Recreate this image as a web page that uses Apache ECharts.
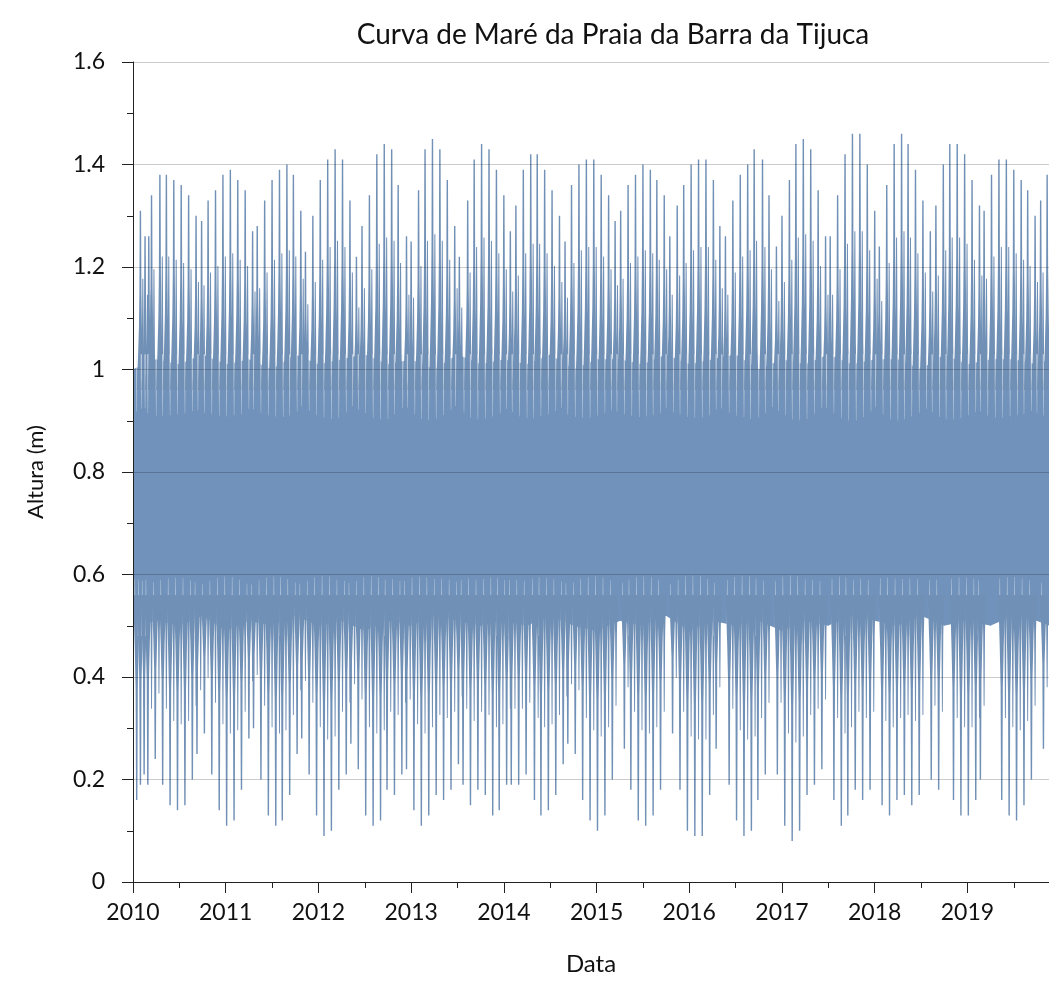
<!DOCTYPE html>
<html>
<head>
<meta charset="utf-8">
<title>Curva de Maré da Praia da Barra da Tijuca</title>
<script src="https://cdn.jsdelivr.net/npm/echarts@6/dist/echarts.min.js"></script>
<style>
  html, body { margin: 0; padding: 0; background: #fff; }
  #chart { width: 1049px; height: 1000px; }
</style>
</head>
<body>
<div id="chart"></div>
<script>
// High-water spikes (decimal year, height in m)
const highTimes = [
  2010.08, 2010.13, 2010.17, 2010.20, 2010.29, 2010.36, 2010.44, 2010.52, 2010.60, 2010.68,
  2010.74, 2010.81, 2010.89, 2010.97, 2011.05, 2011.13, 2011.21, 2011.29, 2011.34, 2011.42,
  2011.50, 2011.58, 2011.66, 2011.73, 2011.81, 2011.86, 2011.94, 2012.02, 2012.10, 2012.18,
  2012.26, 2012.34, 2012.41, 2012.47, 2012.55, 2012.63, 2012.71, 2012.79, 2012.86, 2012.95,
  2013.00, 2013.08, 2013.15, 2013.23, 2013.31, 2013.39, 2013.47, 2013.52, 2013.61, 2013.68,
  2013.76, 2013.84, 2013.92, 2014.00, 2014.07, 2014.13, 2014.21, 2014.29, 2014.36, 2014.44,
  2014.52, 2014.60, 2014.66, 2014.73, 2014.81, 2014.89, 2014.97, 2015.05, 2015.13, 2015.20,
  2015.26, 2015.34, 2015.42, 2015.50, 2015.58, 2015.65, 2015.73, 2015.79, 2015.87, 2015.94,
  2016.02, 2016.10, 2016.18, 2016.26, 2016.33, 2016.39, 2016.47, 2016.55, 2016.63, 2016.70,
  2016.79, 2016.86, 2016.94, 2017.00, 2017.08, 2017.15, 2017.23, 2017.31, 2017.39, 2017.47,
  2017.52, 2017.60, 2017.68, 2017.76, 2017.84, 2017.92, 2018.00, 2018.05, 2018.13, 2018.21,
  2018.29, 2018.36, 2018.44, 2018.52, 2018.60, 2018.66, 2018.74, 2018.81, 2018.89, 2018.97,
  2019.05, 2019.13, 2019.18, 2019.26, 2019.34, 2019.42, 2019.50, 2019.58, 2019.65, 2019.73,
  2019.79, 2019.86
];
const highValues = [
  1.31, 1.26, 1.26, 1.34, 1.38, 1.38, 1.37, 1.36, 1.34, 1.30,
  1.29, 1.33, 1.35, 1.38, 1.39, 1.37, 1.35, 1.27, 1.28, 1.33,
  1.37, 1.39, 1.40, 1.38, 1.31, 1.23, 1.30, 1.37, 1.41, 1.43,
  1.41, 1.33, 1.22, 1.28, 1.34, 1.42, 1.44, 1.43, 1.36, 1.26,
  1.25, 1.35, 1.43, 1.45, 1.43, 1.37, 1.28, 1.22, 1.33, 1.41,
  1.44, 1.43, 1.39, 1.34, 1.27, 1.32, 1.39, 1.42, 1.42, 1.39,
  1.35, 1.30, 1.25, 1.36, 1.40, 1.41, 1.41, 1.38, 1.34, 1.29,
  1.31, 1.36, 1.38, 1.40, 1.39, 1.37, 1.34, 1.26, 1.32, 1.36,
  1.40, 1.41, 1.41, 1.37, 1.28, 1.26, 1.33, 1.38, 1.40, 1.43,
  1.41, 1.34, 1.24, 1.30, 1.37, 1.44, 1.45, 1.43, 1.35, 1.26,
  1.26, 1.34, 1.42, 1.46, 1.46, 1.40, 1.31, 1.24, 1.36, 1.44,
  1.46, 1.44, 1.39, 1.33, 1.27, 1.32, 1.40, 1.44, 1.44, 1.42,
  1.37, 1.32, 1.31, 1.38, 1.41, 1.41, 1.39, 1.37, 1.35, 1.30,
  1.33, 1.38
];

// Low-water spikes (decimal year, height in m)
const lowTimes = [
  2010.04, 2010.08, 2010.12, 2010.16, 2010.24, 2010.32, 2010.40, 2010.48, 2010.56, 2010.64,
  2010.69, 2010.77, 2010.85, 2010.93, 2011.01, 2011.09, 2011.17, 2011.25, 2011.30, 2011.38,
  2011.46, 2011.54, 2011.61, 2011.69, 2011.77, 2011.82, 2011.90, 2011.98, 2012.06, 2012.14,
  2012.22, 2012.30, 2012.35, 2012.43, 2012.51, 2012.59, 2012.67, 2012.74, 2012.82, 2012.90,
  2012.95, 2013.03, 2013.11, 2013.19, 2013.27, 2013.35, 2013.43, 2013.51, 2013.56, 2013.64,
  2013.72, 2013.80, 2013.88, 2013.95, 2014.03, 2014.08, 2014.16, 2014.24, 2014.33, 2014.40,
  2014.48, 2014.56, 2014.64, 2014.69, 2014.77, 2014.85, 2014.93, 2015.01, 2015.09, 2015.17,
  2015.30, 2015.37, 2015.45, 2015.53, 2015.61, 2015.69, 2015.82, 2015.90, 2015.98, 2016.06,
  2016.14, 2016.22, 2016.29, 2016.43, 2016.51, 2016.59, 2016.67, 2016.74, 2016.82, 2016.95,
  2017.03, 2017.11, 2017.19, 2017.27, 2017.35, 2017.43, 2017.56, 2017.64, 2017.71, 2017.79,
  2017.87, 2017.95, 2018.08, 2018.16, 2018.24, 2018.32, 2018.40, 2018.48, 2018.61, 2018.69,
  2018.85, 2018.93, 2019.01, 2019.09, 2019.14, 2019.37, 2019.45, 2019.53, 2019.61, 2019.69,
  2019.82
];
const lowValues = [
  0.16, 0.19, 0.21, 0.19, 0.24, 0.19, 0.15, 0.14, 0.15, 0.20,
  0.25, 0.29, 0.21, 0.14, 0.11, 0.12, 0.18, 0.28, 0.30, 0.20,
  0.13, 0.11, 0.12, 0.17, 0.25, 0.28, 0.21, 0.13, 0.09, 0.10,
  0.18, 0.21, 0.27, 0.22, 0.13, 0.11, 0.12, 0.18, 0.17, 0.21,
  0.22, 0.14, 0.11, 0.13, 0.17, 0.16, 0.18, 0.23, 0.19, 0.15,
  0.18, 0.17, 0.13, 0.14, 0.19, 0.19, 0.19, 0.21, 0.16, 0.13,
  0.14, 0.17, 0.23, 0.27, 0.25, 0.16, 0.12, 0.10, 0.13, 0.20,
  0.26, 0.18, 0.12, 0.11, 0.13, 0.18, 0.29, 0.18, 0.10, 0.09,
  0.09, 0.17, 0.26, 0.19, 0.12, 0.09, 0.10, 0.16, 0.21, 0.21,
  0.11, 0.08, 0.10, 0.17, 0.19, 0.22, 0.16, 0.11, 0.13, 0.18,
  0.16, 0.18, 0.15, 0.13, 0.16, 0.17, 0.15, 0.17, 0.20, 0.18,
  0.16, 0.13, 0.13, 0.16, 0.20, 0.16, 0.13, 0.12, 0.15, 0.20,
  0.26
];

// Dense mid-band of the record (quarterly edges, m)
const bandTimes = [
  2010.00, 2010.25, 2010.50, 2010.75, 2011.00, 2011.25, 2011.50, 2011.75, 2012.00, 2012.25,
  2012.50, 2012.75, 2013.00, 2013.25, 2013.50, 2013.75, 2014.00, 2014.25, 2014.50, 2014.75,
  2015.00, 2015.25, 2015.50, 2015.75, 2016.00, 2016.25, 2016.50, 2016.75, 2017.00, 2017.25,
  2017.50, 2017.75, 2018.00, 2018.25, 2018.50, 2018.75, 2019.00, 2019.25, 2019.50, 2019.75,
  2019.88
];
const bandUpper = [
  1.00, 1.02, 1.01, 1.03, 1.01, 1.02, 1.00, 1.03, 1.01, 1.02,
  1.03, 1.01, 1.02, 1.00, 1.03, 1.01, 1.02, 1.01, 1.03, 1.00,
  1.02, 1.02, 1.01, 1.03, 1.01, 1.02, 1.03, 1.00, 1.02, 1.01,
  1.03, 1.01, 1.02, 1.02, 1.00, 1.03, 1.01, 1.02, 1.02, 1.01,
  1.02
];
const bandLower = [
  0.50, 0.51, 0.50, 0.52, 0.49, 0.51, 0.50, 0.52, 0.50, 0.51,
  0.49, 0.51, 0.50, 0.52, 0.51, 0.50, 0.51, 0.50, 0.52, 0.50,
  0.49, 0.51, 0.50, 0.52, 0.49, 0.51, 0.50, 0.51, 0.49, 0.51,
  0.50, 0.52, 0.51, 0.50, 0.52, 0.50, 0.51, 0.50, 0.52, 0.51,
  0.50
];

// Tick labels
const yearLabels = ['2010', '2011', '2012', '2013', '2014', '2015', '2016', '2017', '2018', '2019'];

const TIDE = '#7192ba';
const SPIKE = '#7190b6';
const GAP = 'rgba(236,241,248,0.6)';
const FONT = 'Lato, "Open Sans", sans-serif';
const HIGH_BASE = 0.96;   // spikes grow out of the dense band
const LOW_BASE = 0.56;

// One band segment per item: [t0, low0, up0, t1, low1, up1]
const bandSegments = bandTimes.slice(0, -1).map((t, i) => [
  t, bandLower[i], bandUpper[i], bandTimes[i + 1], bandLower[i + 1], bandUpper[i + 1]
]);

function bandItem(params, api) {
  const a = api.coord([api.value(0), api.value(1)]);
  const b = api.coord([api.value(0), api.value(2)]);
  const c = api.coord([api.value(3), api.value(5)]);
  const d = api.coord([api.value(3), api.value(4)]);
  return {
    type: 'polygon',
    shape: { points: [[a[0] - 0.5, a[1]], [b[0] - 0.5, b[1]], [c[0] + 0.5, c[1]], [d[0] + 0.5, d[1]]] },
    style: { fill: TIDE }
  };
}

// Tapered spike: wide where it leaves the band, a thin line at the tip.
// Profile = [fraction of the way to the tip, half-width in px]
function taper(x, yb, yt, profile) {
  const left = [], right = [];
  profile.forEach(([f, w]) => {
    const y = yb + (yt - yb) * f;
    left.push([x - w, y]);
    right.unshift([x + w, y]);
  });
  return left.concat(right);
}

const HIGH_PROFILE = [[0, 3.6], [0.18, 2.4], [0.35, 1.5], [0.55, 1.0], [1, 0.7]];
const HIGH_SIDE = [[0, 1.8], [0.3, 1.0], [1, 0.5]];
const LOW_PROFILE = [[0, 3.4], [0.25, 2.0], [0.45, 1.1], [1, 0.7]];
const LOW_SIDE = [[0, 1.8], [0.35, 0.9], [1, 0.45]];
const GAP_PROFILE = [[0, 0.7], [0.6, 0.45], [1, 0.2]];

// The light gap beside each spike reaches into the dense band
// in proportion to the spike's range.
function makeSpike(profile, side, sideDx, sideReach, gapDx, gapEdge, gapDepth) {
  return function (params, api) {
    const t = api.value(0), base = api.value(1), tip = api.value(2);
    const pb = api.coord([t, base]);
    const pt = api.coord([t, tip]);
    const ys = pb[1] + (pt[1] - pb[1]) * sideReach;
    const ge = api.coord([t, gapEdge]);
    const gd = api.coord([t, base - (tip - base) * gapDepth]);
    return {
      type: 'group',
      children: [
        { type: 'polygon', shape: { points: taper(pb[0] + gapDx, ge[1], gd[1], GAP_PROFILE) }, style: { fill: GAP } },
        { type: 'polygon', shape: { points: taper(pb[0], pb[1], pt[1], profile) }, style: { fill: SPIKE } },
        { type: 'polygon', shape: { points: taper(pb[0] + sideDx, pb[1], ys, side) }, style: { fill: SPIKE } }
      ]
    };
  };
}

const chart = echarts.init(document.getElementById('chart'), null, { renderer: 'canvas' });

chart.setOption({
  animation: false,
  backgroundColor: '#ffffff',
  title: {
    text: 'Curva de Maré da Praia da Barra da Tijuca',
    left: 608,
    top: 16,
    textAlign: 'center',
    textStyle: { fontFamily: FONT, fontSize: 28, fontWeight: 'normal', color: '#111' }
  },
  grid: { left: 133, right: 0, top: 62, bottom: 118, containLabel: false },
  xAxis: {
    type: 'value',
    min: 2010,
    max: 2019.88,
    interval: 1,
    z: 10,
    name: 'Data',
    nameLocation: 'middle',
    nameGap: 70,
    nameTextStyle: { fontFamily: FONT, fontSize: 24, color: '#111' },
    axisLine: { show: true, onZero: false, lineStyle: { color: '#222', width: 1 } },
    axisTick: { show: true, inside: false, length: 11, lineStyle: { color: '#222' } },
    minorTick: { show: true, splitNumber: 2, length: 6, lineStyle: { color: '#222' } },
    splitLine: { show: false },
    axisLabel: {
      margin: 19,
      fontFamily: FONT, fontSize: 23, color: '#111',
      showMaxLabel: false,
      formatter: v => yearLabels[Math.round(v) - 2010] || ''
    }
  },
  yAxis: {
    type: 'value',
    min: 0,
    max: 1.6,
    interval: 0.2,
    z: 10,
    name: 'Altura (m)',
    nameLocation: 'middle',
    nameGap: 86,
    nameTextStyle: { fontFamily: FONT, fontSize: 22, color: '#111' },
    axisLine: { show: true, lineStyle: { color: '#222', width: 1 } },
    axisTick: { show: true, inside: false, length: 11, lineStyle: { color: '#222' } },
    minorTick: { show: true, splitNumber: 2, length: 6, lineStyle: { color: '#222' } },
    splitLine: { show: true, lineStyle: { color: 'rgba(0,0,0,0.2)', width: 1.2 } },
    axisLabel: {
      margin: 28,
      fontFamily: FONT, fontSize: 23, color: '#111',
      formatter: v => (Math.abs(v - Math.round(v)) < 1e-9 ? String(Math.round(v)) : v.toFixed(1))
    }
  },
  series: [
    {
      name: 'faixa',
      type: 'custom',
      renderItem: bandItem,
      clip: true,
      data: bandSegments,
      silent: true
    },
    {
      name: 'preamar',
      type: 'custom',
      renderItem: makeSpike(HIGH_PROFILE, HIGH_SIDE, 2.4, 0.62, -3.7, 1.03, 0.12),
      clip: true,
      data: highTimes.map((t, i) => [t, HIGH_BASE, highValues[i]]),
      silent: true
    },
    {
      name: 'baixamar',
      type: 'custom',
      renderItem: makeSpike(LOW_PROFILE, LOW_SIDE, 3.7, 0.6, -1.9, 0.48, 0.08),
      clip: true,
      data: lowTimes.map((t, i) => [t, LOW_BASE, lowValues[i]]),
      silent: true
    }
  ]
});
</script>
</body>
</html>
